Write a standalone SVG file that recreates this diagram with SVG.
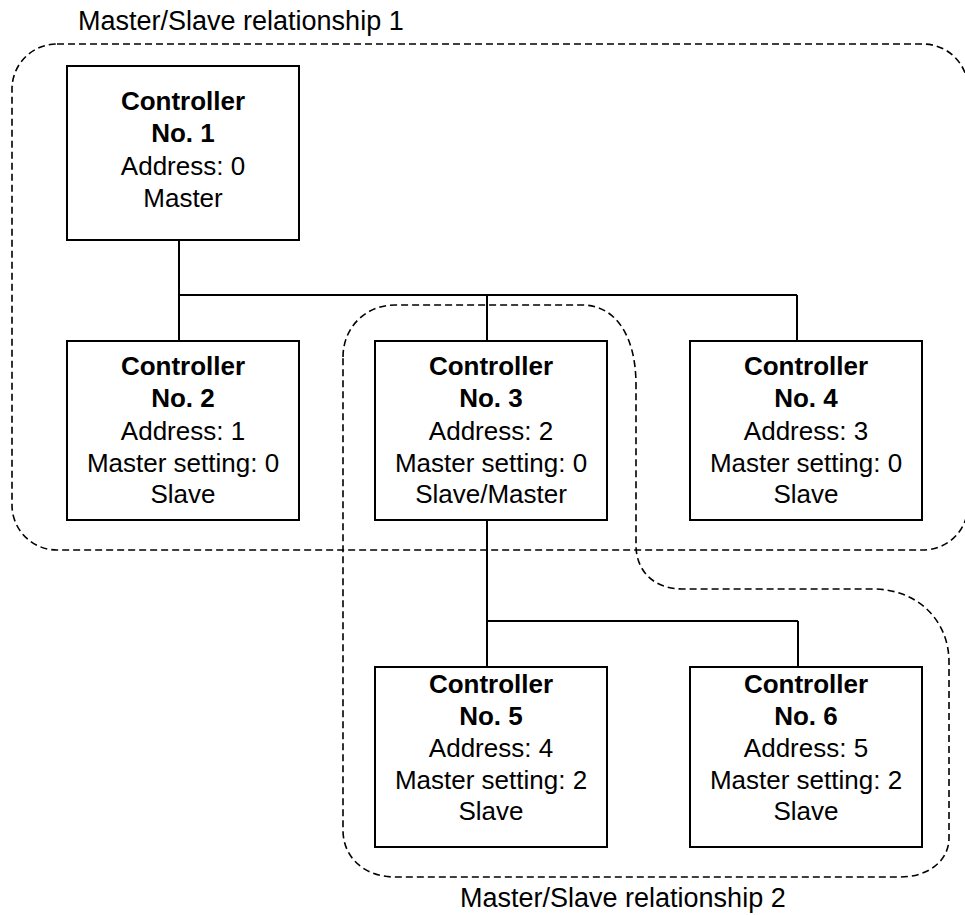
<svg xmlns="http://www.w3.org/2000/svg" width="965" height="915" viewBox="0 0 965 915">
<style>
.box{fill:#fff;stroke:#000;stroke-width:2}
.t{font-family:"Liberation Sans",Arial,sans-serif;font-size:26px;fill:#000;text-anchor:middle}
.b{font-weight:bold}
.lbl{font-family:"Liberation Sans",Arial,sans-serif;font-size:27px;fill:#000}
.grp{fill:none;stroke:#000;stroke-width:1.6;stroke-dasharray:7 4}
.conn{fill:none;stroke:#000;stroke-width:2}
</style>
<rect width="965" height="915" fill="#fff"/>
<g id="groups">
<rect id="rel1" class="grp" x="12" y="44" width="956" height="506" rx="45" ry="45"/>
<path id="rel2" class="grp" d="M343,357 C343,328 365,305 395,305 L582,305 C615,305 636,335 636,385 L636,545 C636,572 655,589 682,589 L873,589 C917,589 949,620 949,662 L949,838 C949,861 928,877 900,877 L395,877 C365,877 343,858 343,830 Z"/>
<text class="lbl" x="78" y="30">Master/Slave relationship 1</text>
<text class="lbl" x="460" y="907">Master/Slave relationship 2</text>
</g>
<g id="connectors">
<path class="conn" d="M179,240 V295 M179,295 H797 M179,295 V341 M487,295 V341 M797,295 V341"/>
<path class="conn" d="M487,520 V621 M487,621 H798 M487,621 V667 M798,621 V667"/>
</g>
<g id="c1">
<rect class="box" x="67" y="66" width="232" height="174"/>
<text class="t b" x="183" y="110">Controller</text>
<text class="t b" x="183" y="142">No. 1</text>
<text class="t" x="183" y="175">Address: 0</text>
<text class="t" x="183" y="207">Master</text>
</g>
<g id="c2">
<rect class="box" x="67" y="341" width="232" height="179"/>
<text class="t b" x="183" y="375">Controller</text>
<text class="t b" x="183" y="407">No. 2</text>
<text class="t" x="183" y="440">Address: 1</text>
<text class="t" x="183" y="472">Master setting: 0</text>
<text class="t" x="183" y="503">Slave</text>
</g>
<g id="c3">
<rect class="box" x="375" y="341" width="232" height="179"/>
<text class="t b" x="491" y="375">Controller</text>
<text class="t b" x="491" y="407">No. 3</text>
<text class="t" x="491" y="440">Address: 2</text>
<text class="t" x="491" y="472">Master setting: 0</text>
<text class="t" x="491" y="503">Slave/Master</text>
</g>
<g id="c4">
<rect class="box" x="690" y="341" width="232" height="179"/>
<text class="t b" x="806" y="375">Controller</text>
<text class="t b" x="806" y="407">No. 4</text>
<text class="t" x="806" y="440">Address: 3</text>
<text class="t" x="806" y="472">Master setting: 0</text>
<text class="t" x="806" y="503">Slave</text>
</g>
<g id="c5">
<rect class="box" x="375" y="667" width="232" height="180"/>
<text class="t b" x="491" y="693">Controller</text>
<text class="t b" x="491" y="725">No. 5</text>
<text class="t" x="491" y="757">Address: 4</text>
<text class="t" x="491" y="789">Master setting: 2</text>
<text class="t" x="491" y="820">Slave</text>
</g>
<g id="c6">
<rect class="box" x="690" y="667" width="232" height="180"/>
<text class="t b" x="806" y="693">Controller</text>
<text class="t b" x="806" y="725">No. 6</text>
<text class="t" x="806" y="757">Address: 5</text>
<text class="t" x="806" y="789">Master setting: 2</text>
<text class="t" x="806" y="820">Slave</text>
</g>
</svg>
